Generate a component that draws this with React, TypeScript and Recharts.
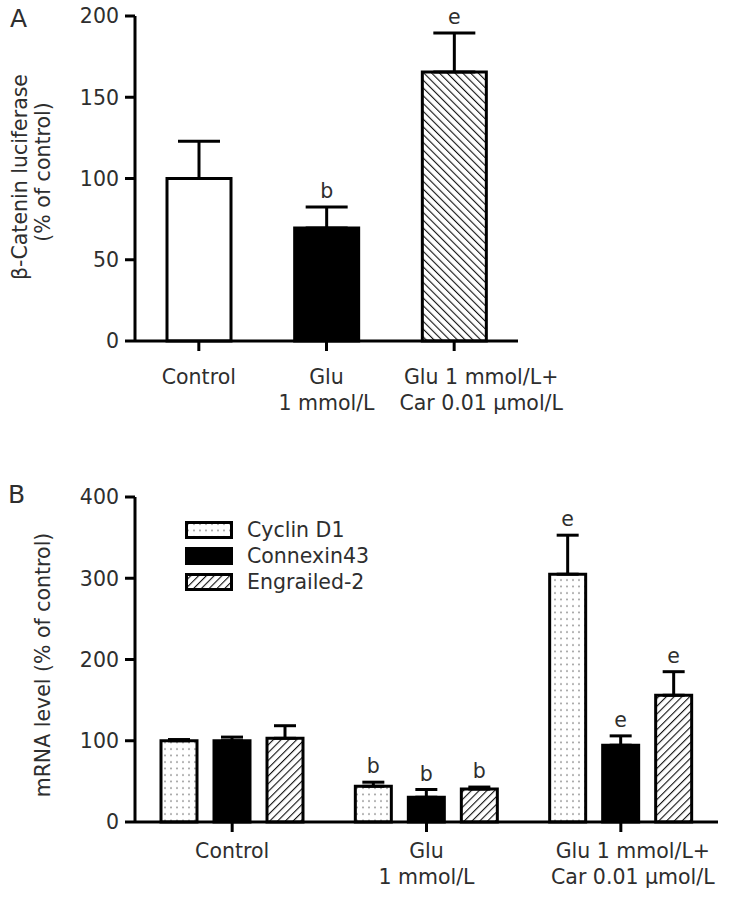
import React from 'react';
import { BarChart, Bar, Cell, XAxis, YAxis, ErrorBar, LabelList, Legend, Label } from 'recharts';

const FONT = '"DejaVu Sans", Verdana, sans-serif';
const INK = '#2e2e2e';

// panel A - beta-catenin luciferase
const groups = ['Control', 'Glu|1 mmol/L', 'Glu 1 mmol/L+|Car 0.01 μmol/L'];
const lucValues = [100, 69.5, 165.5];
const lucErrors = [23, 13, 24];
const lucMarks = ['', 'b', 'e'];
const lucFills = ['#ffffff', '#000000', 'url(#hatchA)'];
const ticksA = [0, 50, 100, 150, 200];

// panel B - mRNA levels
const genes = ['Cyclin D1', 'Connexin43', 'Engrailed-2'];
const cyclin = [100, 44, 305];
const cyclinErr = [1.5, 5, 48];
const connexin = [100, 30.5, 94.5];
const connexinErr = [4.5, 9.5, 11.5];
const engrailed = [103, 40.5, 156];
const engrailedErr = [15.5, 2.5, 29];
const mrnaMarks = ['', 'b', 'e'];
const ticksB = [0, 100, 200, 300, 400];

const geneFills = ['url(#dots)', '#000000', 'url(#hatchB)'];

const dataA = groups.map((g, i) => ({
  name: g,
  value: lucValues[i],
  err: [0, lucErrors[i]],
  mark: lucMarks[i],
}));

const dataB = groups.map((g, i) => ({
  name: g,
  cyclin: cyclin[i],
  cyclinErr: [0, cyclinErr[i]],
  connexin: connexin[i],
  connexinErr: [0, connexinErr[i]],
  engrailed: engrailed[i],
  engrailedErr: [0, engrailedErr[i]],
  mark: mrnaMarks[i],
}));

const textStyle = { fontFamily: FONT, fontSize: 20.5, fill: INK };

// the last group label sits a bit right of its tick in the original
function groupTick(dy: number, shifts: number[]) {
  return (props: any) => {
    const { x, y, payload, index } = props;
    const lines = String(payload.value).split('|');
    const cx = x + (shifts[index] || 0);
    return (
      <text x={cx} y={y} textAnchor="middle" {...textStyle}>
        {lines.map((l, i) => (
          <tspan key={i} x={cx} dy={i === 0 ? dy : 26}>{l}</tspan>
        ))}
      </text>
    );
  };
}

// letter above the error bar cap
function markContent(values: number[], errors: number[], marks: string[]) {
  return (props: any) => {
    const vb = props.viewBox || props;
    const i = props.index;
    const m = marks[i];
    if (!m) return null;
    const x = vb.x;
    const w = vb.width;
    const h = Math.abs(vb.height);
    const top = Math.min(vb.y, vb.y + vb.height);
    const perUnit = h / values[i];
    const capY = top - errors[i] * perUnit;
    return (
      <text x={x + w / 2} y={capY - 9} textAnchor="middle" {...textStyle}>{m}</text>
    );
  };
}

const Patterns = () => (
  <defs>
    <pattern id="hatchA" width="5.5" height="5.5" patternUnits="userSpaceOnUse" patternTransform="rotate(-45)">
      <rect width="5.5" height="5.5" fill="#fff" />
      <line x1="0" y1="0" x2="0" y2="5.5" stroke="#111" strokeWidth="2.2" />
    </pattern>
    <pattern id="hatchB" width="5.5" height="5.5" patternUnits="userSpaceOnUse" patternTransform="rotate(45)">
      <rect width="5.5" height="5.5" fill="#fff" />
      <line x1="0" y1="0" x2="0" y2="5.5" stroke="#111" strokeWidth="2.2" />
    </pattern>
    <pattern id="dots" width="6" height="6.5" patternUnits="userSpaceOnUse">
      <rect width="6" height="6.5" fill="#fff" />
      <circle cx="3" cy="3" r="0.9" fill="#8a8a8a" />
    </pattern>
  </defs>
);

const GeneLegend = () => (
  <svg width={240} height={82} style={{ display: 'block', overflow: 'visible' }}>
    {genes.map((g, i) => (
      <g key={g} transform={`translate(0, ${i * 26})`}>
        <rect x={1.5} y={1.5} width={45} height={15} fill={geneFills[i]} stroke="#000" strokeWidth={3} />
        <text x={62} y={16} {...textStyle}>{g}</text>
      </g>
    ))}
  </svg>
);

const axisLine = { stroke: '#000', strokeWidth: 3 };

export default function App() {
  return (
    <div style={{ position: 'absolute', left: 0, top: 0, width: 729, height: 898, background: '#fff' }}>
      <svg width={0} height={0} style={{ position: 'absolute' }}>
        <Patterns />
      </svg>

      <div style={{ position: 'absolute', left: 0, top: 0 }}>
        <BarChart width={729} height={440} data={dataA} margin={{ top: 16, right: 211, left: 0, bottom: 39 }}>
          <XAxis
            dataKey="name"
            height={60}
            axisLine={axisLine}
            tickLine={axisLine}
            tickSize={10}
            tickMargin={2}
            interval={0}
            tick={groupTick(31, [0, 0, 27])}
          />
          <YAxis
            width={135}
            domain={[0, 200]}
            ticks={ticksA}
            interval={0}
            axisLine={axisLine}
            tickLine={axisLine}
            tickSize={10}
            tickMargin={6}
            tick={{ ...textStyle }}
          >
            <Label
              content={() => (
                <g>
                  <text x={10} y={27} fontFamily={FONT} fontSize={25} fill={INK}>A</text>
                  <text transform="translate(27, 177) rotate(-90)" textAnchor="middle" {...textStyle}>β-Catenin luciferase</text>
                  <text transform="translate(50, 172) rotate(-90)" textAnchor="middle" {...textStyle}>(% of control)</text>
                </g>
              )}
            />
          </YAxis>
          <Bar dataKey="value" barSize={64} stroke="#000" strokeWidth={3} isAnimationActive={false}>
            {dataA.map((d, i) => (
              <Cell key={d.name} fill={lucFills[i]} />
            ))}
            <ErrorBar dataKey="err" direction="y" width={21} stroke="#000" strokeWidth={3} />
            <LabelList dataKey="mark" content={markContent(lucValues, lucErrors, lucMarks)} />
          </Bar>
        </BarChart>
      </div>

      <div style={{ position: 'absolute', left: 0, top: 460 }}>
        <BarChart
          width={729}
          height={438}
          data={dataB}
          margin={{ top: 37, right: 11, left: 0, bottom: 16 }}
          barSize={36}
          barGap={17}
        >
          <XAxis
            dataKey="name"
            height={60}
            axisLine={axisLine}
            tickLine={axisLine}
            tickSize={10}
            tickMargin={2}
            interval={0}
            tick={groupTick(24, [0, 0, 12])}
          />
          <YAxis
            width={135}
            domain={[0, 400]}
            ticks={ticksB}
            interval={0}
            axisLine={axisLine}
            tickLine={axisLine}
            tickSize={10}
            tickMargin={6}
            tick={{ ...textStyle }}
          >
            <Label
              content={() => (
                <g>
                  <text x={8} y={43} fontFamily={FONT} fontSize={25} fill={INK}>B</text>
                  <text transform="translate(50, 205) rotate(-90)" textAnchor="middle" {...textStyle}>mRNA level (% of control)</text>
                </g>
              )}
            />
          </YAxis>
          <Legend
            layout="vertical"
            align="center"
            verticalAlign="middle"
            wrapperStyle={{ left: 185, top: 61, width: 240, height: 82 }}
            content={() => <GeneLegend />}
          />
          <Bar dataKey="cyclin" name={genes[0]} fill={geneFills[0]} stroke="#000" strokeWidth={3} isAnimationActive={false}>
            <ErrorBar dataKey="cyclinErr" direction="y" width={11} stroke="#000" strokeWidth={3} />
            <LabelList dataKey="mark" content={markContent(cyclin, cyclinErr, mrnaMarks)} />
          </Bar>
          <Bar dataKey="connexin" name={genes[1]} fill={geneFills[1]} stroke="#000" strokeWidth={3} isAnimationActive={false}>
            <ErrorBar dataKey="connexinErr" direction="y" width={11} stroke="#000" strokeWidth={3} />
            <LabelList dataKey="mark" content={markContent(connexin, connexinErr, mrnaMarks)} />
          </Bar>
          <Bar dataKey="engrailed" name={genes[2]} fill={geneFills[2]} stroke="#000" strokeWidth={3} isAnimationActive={false}>
            <ErrorBar dataKey="engrailedErr" direction="y" width={11} stroke="#000" strokeWidth={3} />
            <LabelList dataKey="mark" content={markContent(engrailed, engrailedErr, mrnaMarks)} />
          </Bar>
        </BarChart>
      </div>
    </div>
  );
}
